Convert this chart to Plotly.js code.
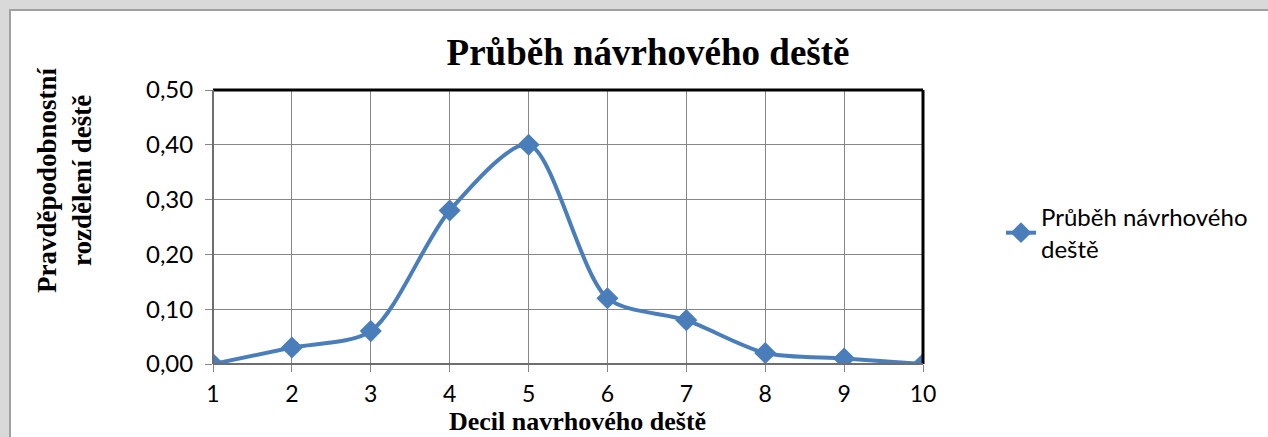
<!DOCTYPE html>
<html><head><meta charset="utf-8">
<script src="https://cdn.plot.ly/plotly-3.0.1.min.js"></script>
<style>html,body{margin:0;padding:0;background:#d9d9d9}#c{width:1268px;height:437px}</style>
</head><body><div id="c"></div>
<script>
const deciles = [1,2,3,4,5,6,7,8,9,10];
const values = [0, 0.03, 0.06, 0.28, 0.40, 0.12, 0.08, 0.02, 0.01, 0];
const yTicks = [0, 0.1, 0.2, 0.3, 0.4, 0.5];
const seriesName = 'Průběh návrhového<br>deště';
const titleText = 'Průběh návrhového deště';
const xTitle = 'Decil navrhového deště';
const yTitle = 'Pravděpodobnostní<br>rozdělení deště';

const W = 1268, H = 437, L = 213, R = 345, T = 90, B = 73;
const pw = W - L - R, ph = H - T - B;
const px = p => (p - L) / pw;
const py = p => (H - B - p) / ph;

const trace = {
  x: deciles, y: values, name: seriesName, type: 'scatter', mode: 'lines+markers',
  line: {color: '#4a7ebb', width: 4, shape: 'spline', smoothing: 0.8},
  marker: {symbol: 'diamond', size: 17, color: '#4a7ebb'}
};

const serif = '"Liberation Serif", "Times New Roman", serif';
const layout = {
  width: W, height: H,
  margin: {l: L, r: R, t: T, b: B},
  paper_bgcolor: '#d9d9d9', plot_bgcolor: 'white',
  separators: ',.',
  font: {family: 'Lato, "Open Sans", sans-serif', size: 24, color: '#000'},
  title: {text: titleText, font: {family: serif, size: 37, color: '#000', weight: 'bold'},
          x: px(648), xref: 'paper', xanchor: 'center', y: 1 - 52 / H, yanchor: 'middle'},
  xaxis: {range: [1, 10], tickvals: deciles, showgrid: true, gridcolor: '#868686', gridwidth: 1,
          zeroline: false, showline: false, ticks: 'outside', ticklen: 7, tickcolor: '#868686',
          ticklabelstandoff: 2, tickfont: {size: 23}, fixedrange: true},
  yaxis: {range: [0, 0.5], tickvals: yTicks, tickformat: '.2f', showgrid: true, gridcolor: '#868686', gridwidth: 1,
          zeroline: false, showline: false, ticks: 'outside', ticklen: 7, tickcolor: '#868686',
          ticklabelstandoff: 7, tickfont: {size: 24}, fixedrange: true},
  showlegend: true,
  legend: {x: px(1001), xanchor: 'left', y: py(233), yanchor: 'middle', font: {size: 24}, bgcolor: 'rgba(0,0,0,0)'},
  annotations: [
    {text: yTitle, xref: 'paper', yref: 'paper', x: px(64), y: py(180), xanchor: 'center', yanchor: 'middle',
     textangle: -90, showarrow: false, font: {family: serif, size: 27, weight: 'bold', color: '#000'}},
    {text: xTitle, xref: 'paper', yref: 'paper', x: px(577), y: py(437), xanchor: 'center', yanchor: 'bottom',
     showarrow: false, borderpad: 0, font: {family: serif, size: 26, weight: 'bold', color: '#000'}}
  ],
  shapes: [
    {type: 'rect', xref: 'paper', yref: 'paper', x0: px(10), x1: px(1290), y0: py(460), y1: py(10),
     fillcolor: 'white', line: {color: '#a0a0a0', width: 2}, layer: 'below'},
    {type: 'line', xref: 'paper', yref: 'paper', x0: 0, x1: 1, y0: 1, y1: 1, line: {color: '#000', width: 3}},
    {type: 'line', xref: 'paper', yref: 'paper', x0: 1, x1: 1, y0: 0, y1: 1, line: {color: '#000', width: 3}},
    {type: 'line', xref: 'paper', yref: 'paper', x0: 0, x1: 0, y0: 0, y1: 1, line: {color: '#6e6e6e', width: 2}},
    {type: 'line', xref: 'paper', yref: 'paper', x0: 0, x1: 1, y0: 0, y1: 0, line: {color: '#6e6e6e', width: 2}}
  ]
};
Plotly.newPlot('c', [trace], layout, {displayModeBar: false, staticPlot: true});
</script></body></html>
